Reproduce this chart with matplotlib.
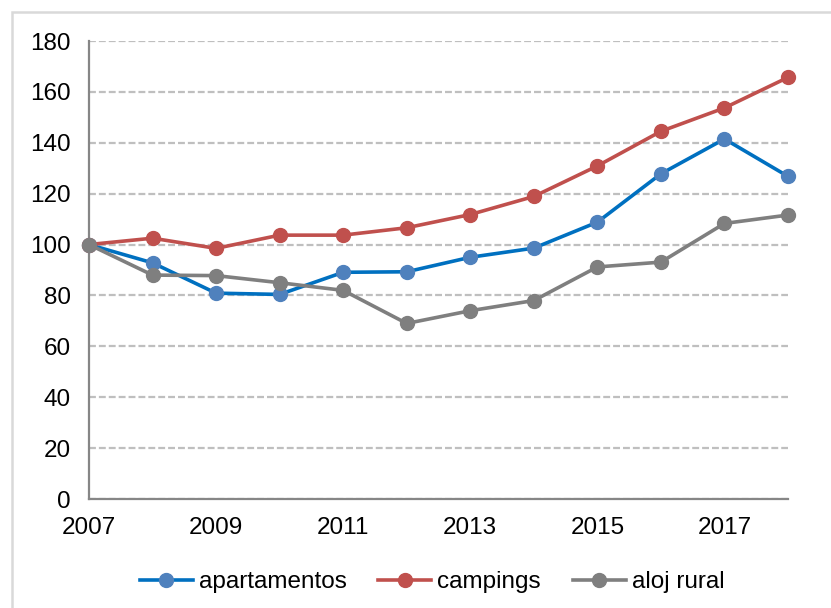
import matplotlib
matplotlib.use("Agg")
import matplotlib.pyplot as plt
from matplotlib.patches import Rectangle

years = [2007, 2008, 2009, 2010, 2011, 2012, 2013, 2014, 2015, 2016, 2017, 2018]
apartamentos = [100, 92.8, 80.9, 80.4, 89.1, 89.3, 95.0, 98.6, 108.8, 127.8, 141.5, 126.8]
campings = [100, 102.5, 98.5, 103.7, 103.7, 106.6, 111.8, 118.9, 130.9, 144.5, 153.7, 165.7]
aloj_rural = [100, 88.0, 87.8, 85.0, 82.0, 69.0, 74.0, 78.0, 91.2, 93.1, 108.3, 111.6]
xticks = [2007, 2009, 2011, 2013, 2015, 2017]
yticks = [0, 20, 40, 60, 80, 100, 120, 140, 160, 180]

plt.rcParams['font.family'] = ['Liberation Sans', 'DejaVu Sans']

W, H = 831, 608
fig = plt.figure(figsize=(W / 100, H / 100), dpi=100)
ax = fig.add_axes([89 / W, 1 - 499 / H, (788 - 89) / W, (499 - 41) / H])

series = [
    (apartamentos, 'apartamentos', '#0070C0', '#4F81BD'),
    (campings, 'campings', '#C0504D', '#C0504D'),
    (aloj_rural, 'aloj rural', '#7F7F7F', '#7F7F7F'),
]
for vals, label, lc, mc in series:
    ax.plot(years, vals, color=lc, lw=2.6, marker='o', markersize=10,
            markerfacecolor=mc, markeredgecolor=mc, label=label,
            clip_on=False, zorder=3)

ax.set_xlim(2007, 2018)
ax.set_ylim(0, 180)
ax.set_xticks(xticks)
ax.set_yticks(yticks)
ax.tick_params(axis='both', length=0, labelsize=17.5, colors='#000000')
ax.tick_params(axis='y', pad=13)
ax.tick_params(axis='x', pad=13)

ax.yaxis.grid(True, color='#BFBFBF', lw=1.6, linestyle=(0, (3.1, 1.35)))
ax.set_axisbelow(True)
for s in ['top', 'right']:
    ax.spines[s].set_visible(False)
for s in ['left', 'bottom']:
    ax.spines[s].set_color('#868686')
    ax.spines[s].set_linewidth(1.6)

leg = fig.legend(loc='center', bbox_to_anchor=(432 / W, 1 - 582 / H), ncol=3,
                 frameon=False, fontsize=17.5, handlelength=2.18,
                 handletextpad=0.25, columnspacing=1.3)

fig.patches.append(Rectangle((11.5 / W, -0.1), 1.2, 1.1 - 12.5 / H,
                             transform=fig.transFigure, fill=False,
                             edgecolor='#D9D9D9', lw=1.8, zorder=0))

fig.savefig('out.png', dpi=100)
